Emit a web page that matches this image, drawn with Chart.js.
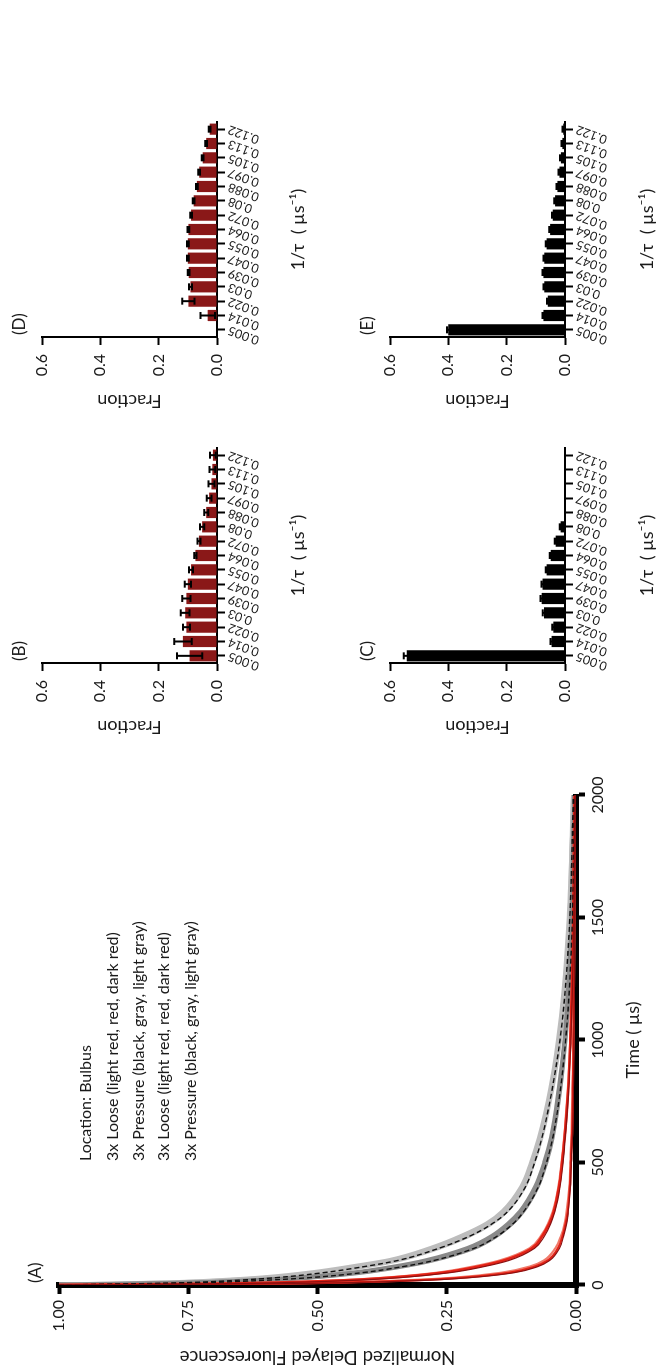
<!DOCTYPE html>
<html>
<head>
<meta charset="utf-8">
<script src="https://cdn.jsdelivr.net/npm/chart.js@4.4.1/dist/chart.umd.min.js"></script>
<style>
  html, body { margin: 0; padding: 0; background: #fff; width: 657px; height: 1371px; overflow: hidden; }
  /* the figure is laid out landscape and turned a quarter turn */
  #fig { position: absolute; left: 0; top: 0; width: 1371px; height: 657px;
         transform-origin: 0 0; transform: translate(0, 1371px) rotate(-90deg);
         font-family: Lato, "Open Sans", sans-serif; color: #1a1a1a; }
  #fig canvas { position: absolute; }
  .panel { position: absolute; font-size: 17px; line-height: 20px; white-space: nowrap; }
  .leg { position: absolute; left: 210px; font-size: 16px; line-height: 20px; white-space: nowrap; }
</style>
</head>
<body>
<div id="fig">
  <canvas id="cA" width="600" height="657" style="left:0;top:0"></canvas>
  <canvas id="cB" width="360" height="330" style="left:600px;top:0"></canvas>
  <canvas id="cC" width="360" height="327" style="left:600px;top:330px"></canvas>
  <canvas id="cD" width="400" height="330" style="left:926px;top:0"></canvas>
  <canvas id="cE" width="400" height="327" style="left:926px;top:330px"></canvas>

  <div class="panel" style="left:88px;top:25px">(A)</div>
  <div class="panel" style="left:710px;top:9px">(B)</div>
  <div class="panel" style="left:710px;top:357px">(C)</div>
  <div class="panel" style="left:1036px;top:9px">(D)</div>
  <div class="panel" style="left:1036px;top:357px">(E)</div>

  <div class="leg" style="top:75px">Location: Bulbus</div>
  <div class="leg" style="top:102px">3x Loose (light red, red, dark red)</div>
  <div class="leg" style="top:128px">3x Pressure (black, gray, light gray)</div>
  <div class="leg" style="top:153px">3x Loose (light red, red, dark red)</div>
  <div class="leg" style="top:180px">3x Pressure (black, gray, light gray)</div>
</div>

<script>
// ---- decay traces (time in µs, normalized delayed fluorescence) ----
const timeUs = [0, 5, 10, 20, 30, 50, 75, 100, 150, 200, 250, 300, 400, 500, 600, 800, 1000, 1200, 1500, 2000];

// pressure, first group
const pressA_lightGray = [1.0, 0.87, 0.77, 0.67, 0.60, 0.51, 0.43, 0.36, 0.28, 0.22, 0.172, 0.141, 0.105, 0.086, 0.071, 0.049, 0.034, 0.023, 0.013, 0.005];
const pressA_black     = [1.0, 0.85, 0.75, 0.65, 0.58, 0.49, 0.41, 0.345, 0.265, 0.205, 0.162, 0.132, 0.098, 0.080, 0.066, 0.046, 0.031, 0.021, 0.012, 0.005];
const pressA_gray      = [1.0, 0.83, 0.72, 0.60, 0.52, 0.42, 0.34, 0.28, 0.20, 0.155, 0.125, 0.103, 0.075, 0.058, 0.046, 0.031, 0.021, 0.014, 0.008, 0.003];
// pressure, second group
const pressB_lightGray = [1.0, 0.86, 0.76, 0.655, 0.585, 0.495, 0.415, 0.35, 0.27, 0.21, 0.166, 0.136, 0.101, 0.083, 0.068, 0.047, 0.032, 0.022, 0.012, 0.005];
const pressB_gray      = [1.0, 0.84, 0.73, 0.61, 0.53, 0.43, 0.35, 0.29, 0.21, 0.162, 0.131, 0.108, 0.079, 0.061, 0.048, 0.033, 0.022, 0.015, 0.008, 0.003];
const pressB_black     = [1.0, 0.825, 0.715, 0.595, 0.515, 0.415, 0.335, 0.275, 0.197, 0.152, 0.122, 0.101, 0.073, 0.057, 0.045, 0.030, 0.020, 0.013, 0.007, 0.003];
// loose, first group
const looseA_red       = [1.0, 0.72, 0.58, 0.44, 0.36, 0.26, 0.19, 0.14, 0.085, 0.065, 0.052, 0.043, 0.033, 0.027, 0.022, 0.015, 0.011, 0.008, 0.005, 0.003];
const looseA_darkRed   = [1.0, 0.70, 0.56, 0.42, 0.34, 0.245, 0.178, 0.13, 0.080, 0.061, 0.049, 0.041, 0.031, 0.025, 0.021, 0.014, 0.010, 0.007, 0.004, 0.002];
const looseA_lightRed  = [1.0, 0.62, 0.47, 0.32, 0.235, 0.145, 0.09, 0.062, 0.040, 0.029, 0.022, 0.018, 0.013, 0.011, 0.009, 0.007, 0.005, 0.004, 0.003, 0.002];
// loose, second group
const looseB_lightRed  = [1.0, 0.73, 0.59, 0.45, 0.37, 0.27, 0.20, 0.148, 0.090, 0.068, 0.054, 0.045, 0.034, 0.028, 0.023, 0.016, 0.011, 0.008, 0.005, 0.003];
const looseB_red       = [1.0, 0.60, 0.45, 0.30, 0.22, 0.13, 0.08, 0.055, 0.035, 0.026, 0.020, 0.016, 0.012, 0.010, 0.008, 0.006, 0.005, 0.004, 0.003, 0.002];
const looseB_darkRed   = [1.0, 0.58, 0.43, 0.28, 0.205, 0.12, 0.074, 0.051, 0.032, 0.024, 0.018, 0.015, 0.011, 0.009, 0.007, 0.005, 0.004, 0.003, 0.002, 0.001];

const yTicksA = [0, 0.25, 0.5, 0.75, 1.0];
const xTicksA = [0, 500, 1000, 1500, 2000];

// ---- lifetime distributions ----
const rateLabels = ['0.005', '0.014', '0.022', '0.03', '0.039', '0.047', '0.055', '0.064', '0.072', '0.08', '0.088', '0.097', '0.105', '0.113', '0.122'];
const fractionTicks = [0, 0.2, 0.4, 0.6];

const fracB = [0.094, 0.117, 0.105, 0.109, 0.105, 0.100, 0.089, 0.074, 0.062, 0.051, 0.037, 0.027, 0.019, 0.016, 0.014];
const errB  = [0.043, 0.030, 0.012, 0.015, 0.014, 0.011, 0.007, 0.004, 0.005, 0.007, 0.007, 0.008, 0.010, 0.010, 0.010];

const fracC = [0.543, 0.046, 0.040, 0.072, 0.080, 0.077, 0.063, 0.049, 0.032, 0.015, 0, 0, 0, 0, 0];
const errC  = [0.010, 0.004, 0.004, 0.004, 0.004, 0.004, 0.003, 0.003, 0.003, 0.003, 0, 0, 0, 0, 0];

const fracD = [0, 0.032, 0.098, 0.091, 0.097, 0.100, 0.100, 0.098, 0.089, 0.080, 0.069, 0.061, 0.049, 0.037, 0.025];
const errD  = [0, 0.025, 0.021, 0.005, 0.003, 0.003, 0.003, 0.003, 0.003, 0.003, 0.003, 0.003, 0.003, 0.003, 0.003];

const fracE = [0.400, 0.074, 0.059, 0.071, 0.074, 0.071, 0.063, 0.051, 0.042, 0.034, 0.026, 0.019, 0.014, 0.009, 0.006];
const errE  = [0.005, 0.003, 0.003, 0.003, 0.003, 0.003, 0.003, 0.003, 0.003, 0.003, 0.003, 0.003, 0.003, 0.003, 0.003];

const FONT = 'Lato, "Open Sans", sans-serif';
const INK = '#1a1a1a';

Chart.defaults.animation = false;
Chart.defaults.font.family = FONT;
Chart.defaults.color = INK;

const pts = arr => timeUs.map((t, i) => ({ x: t, y: arr[i] }));

function trace(label, arr, color, width, dash) {
  return {
    label, data: pts(arr), borderColor: color, borderWidth: width,
    borderDash: dash || [], pointRadius: 0, cubicInterpolationMode: 'monotone', fill: false
  };
}

// ---- panel A: decay curves ----
new Chart(document.getElementById('cA'), {
  type: 'line',
  data: {
    // earlier datasets are painted on top
    datasets: [
      trace('Loose 2 dark red', looseB_darkRed, '#8b1010', 1.2),
      trace('Loose 1 dark red', looseA_darkRed, '#8b1010', 1.2),
      trace('Pressure 1 black', pressA_black, '#111', 1.4, [5, 3]),
      trace('Pressure 2 black', pressB_black, '#111', 1.4, [5, 3]),
      trace('Loose 2 red', looseB_red, '#e32216', 2.2),
      trace('Loose 1 red', looseA_red, '#e32216', 2.6),
      trace('Loose 1 light red', looseA_lightRed, '#f07a6a', 2.2),
      trace('Loose 2 light red', looseB_lightRed, '#f07a6a', 2.2),
      trace('Pressure 1 gray', pressA_gray, '#8a8a8a', 4.5),
      trace('Pressure 2 gray', pressB_gray, '#8a8a8a', 4.5),
      trace('Pressure 2 light gray', pressB_lightGray, '#bdbdbd', 5),
      trace('Pressure 1 light gray', pressA_lightGray, '#bdbdbd', 5)
    ]
  },
  options: {
    responsive: false,
    layout: { padding: { top: 59, right: 24, left: 0, bottom: 0 } },
    plugins: { legend: { display: false }, tooltip: { enabled: false } },
    scales: {
      x: {
        type: 'linear', min: 0, max: 2000,
        afterBuildTicks: s => { s.ticks = xTicksA.map(v => ({ value: v })); },
        ticks: { font: { size: 16 }, color: INK, padding: 3, maxRotation: 0, callback: v => String(v) },
        grid: { drawOnChartArea: false, drawTicks: true, tickLength: 9, tickWidth: 4, tickColor: '#000' },
        border: { display: true, width: 6, color: '#000' },
        title: { display: true, text: 'Time ( µs)', font: { size: 18, lineHeight: 1 }, color: INK, padding: { top: 0, bottom: 15 } },
        afterFit: s => { s.height = 81; }
      },
      y: {
        type: 'linear', min: 0, max: 1,
        afterBuildTicks: s => { s.ticks = yTicksA.map(v => ({ value: v })); },
        ticks: { font: { size: 16 }, color: INK, padding: 6, callback: v => Number(v).toFixed(2) },
        grid: { drawOnChartArea: false, drawTicks: true, tickLength: 9, tickWidth: 4, tickColor: '#000' },
        border: { display: true, width: 6, color: '#000' },
        title: { display: true, text: 'Normalized Delayed Fluorescence', font: { size: 18.5, lineHeight: 1 }, color: INK, padding: { top: 5, bottom: 0 } },
        afterFit: s => { s.width = 86; }
      }
    }
  }
});

// ---- error bars for the distribution panels ----
const errorBarPlugin = {
  id: 'errorBars',
  afterDatasetsDraw(chart) {
    const ctx = chart.ctx;
    const ys = chart.scales.y;
    chart.data.datasets.forEach((ds, di) => {
      if (!ds.errorBars) return;
      const meta = chart.getDatasetMeta(di);
      ctx.save();
      ctx.strokeStyle = '#000';
      ctx.lineWidth = 2;
      meta.data.forEach((bar, i) => {
        const v = ds.data[i], e = ds.errorBars[i];
        if (!e) return;
        const x = bar.x;
        const yHi = ys.getPixelForValue(v + e);
        const yLo = ys.getPixelForValue(Math.max(0, v - e));
        const cap = 3.5;
        ctx.beginPath();
        ctx.moveTo(x, yHi); ctx.lineTo(x, yLo);
        ctx.moveTo(x - cap, yHi); ctx.lineTo(x + cap, yHi);
        ctx.moveTo(x - cap, yLo); ctx.lineTo(x + cap, yLo);
        ctx.stroke();
      });
      ctx.restore();
    });
  }
};

function distribution(id, values, errors, color, top, axisBottom, titlePad, right) {
  new Chart(document.getElementById(id), {
    type: 'bar',
    data: {
      labels: rateLabels,
      datasets: [{
        data: values, errorBars: errors, backgroundColor: color,
        borderWidth: 0, barPercentage: 0.78, categoryPercentage: 1
      }]
    },
    plugins: [errorBarPlugin],
    options: {
      responsive: false,
      layout: { padding: { top: top, right: right, left: 0, bottom: 0 } },
      plugins: { legend: { display: false }, tooltip: { enabled: false } },
      scales: {
        x: {
          type: 'category', offset: true,
          ticks: { autoSkip: false, minRotation: 70, maxRotation: 70, padding: 1, font: { size: 12.5 }, color: INK },
          grid: { offset: false, drawOnChartArea: false, drawTicks: true, tickLength: 8, tickWidth: 2, tickColor: '#000' },
          border: { display: true, width: 2, color: '#000' },
          title: { display: true, text: '1/τ  ( µs⁻¹)', font: { size: 18, lineHeight: 1 }, color: INK, padding: { top: 0, bottom: titlePad } },
          afterFit: s => { s.height = axisBottom; }
        },
        y: {
          type: 'linear', min: 0, max: 0.6,
          afterBuildTicks: s => { s.ticks = fractionTicks.map(v => ({ value: v })); },
          ticks: { font: { size: 16 }, color: INK, padding: 9, callback: v => Number(v).toFixed(1) },
          grid: { drawOnChartArea: false, drawTicks: true, tickLength: 8, tickWidth: 2, tickColor: '#000' },
          border: { display: true, width: 2, color: '#000' },
          title: { display: true, text: 'Fraction', font: { size: 18, lineHeight: 1 }, color: INK, padding: { top: 35, bottom: 0 } },
          afterFit: s => { s.width = 108; }
        }
      }
    }
  });
}

const RED_BAR = '#8a1818';
distribution('cB', fracB, errB, RED_BAR, 42, 113, 23, 37);
distribution('cC', fracC, errC, '#000', 60, 92, 1, 37);
distribution('cD', fracD, errD, RED_BAR, 42, 113, 23, 77);
distribution('cE', fracE, errE, '#000', 60, 92, 1, 77);
</script>
</body>
</html>
